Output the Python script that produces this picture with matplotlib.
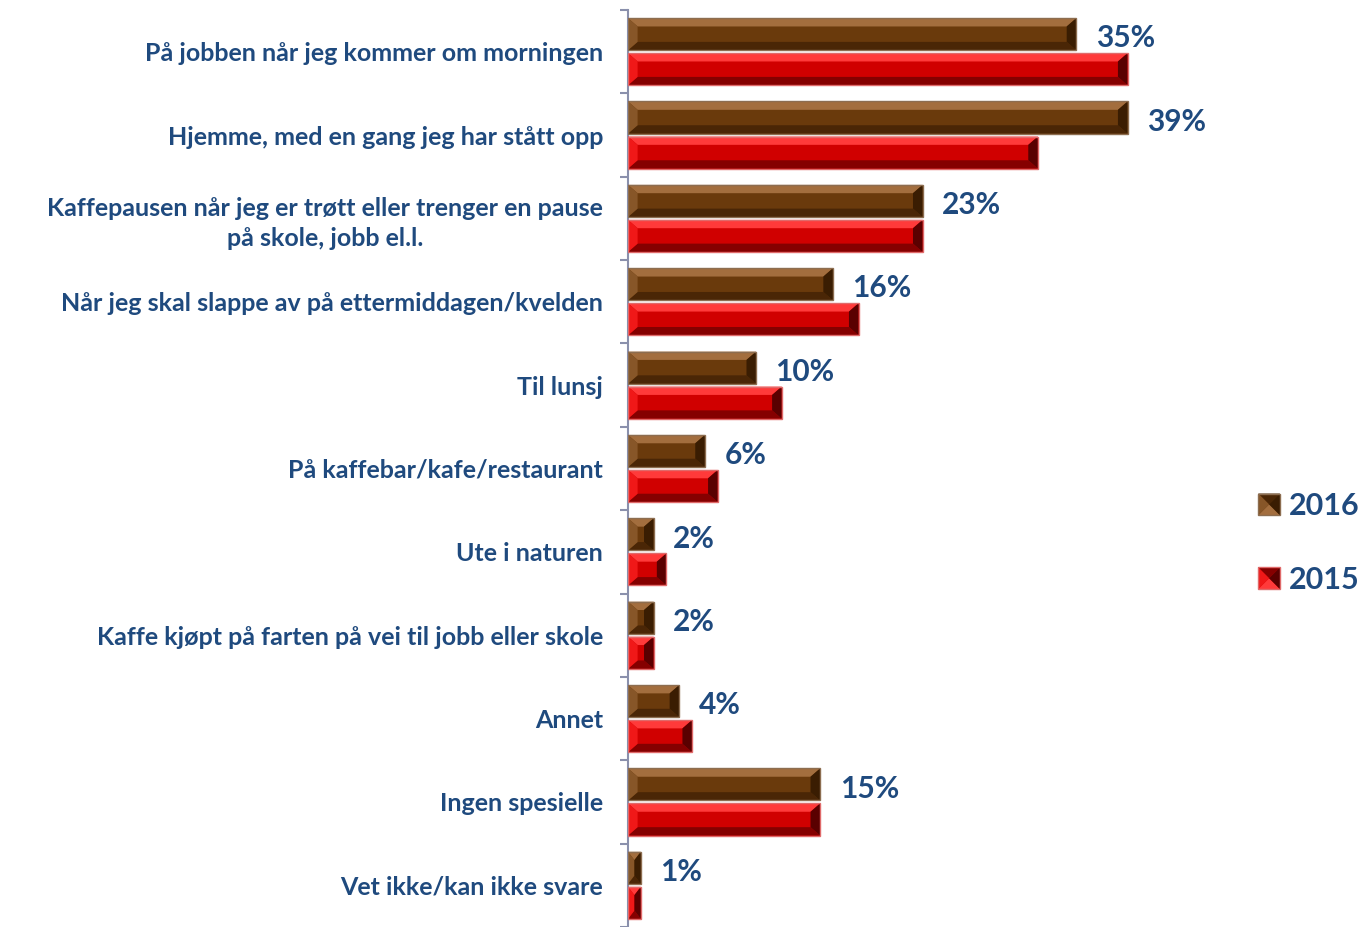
import matplotlib
matplotlib.use("Agg")
import matplotlib.pyplot as plt
from matplotlib.patches import Polygon, Rectangle
from matplotlib.legend_handler import HandlerBase

categories = [
    "På jobben når jeg kommer om morningen",
    "Hjemme, med en gang jeg har stått opp",
    "Kaffepausen når jeg er trøtt eller trenger en pause\npå skole, jobb el.l.",
    "Når jeg skal slappe av på ettermiddagen/kvelden",
    "Til lunsj",
    "På kaffebar/kafe/restaurant",
    "Ute i naturen",
    "Kaffe kjøpt på farten på vei til jobb eller skole",
    "Annet",
    "Ingen spesielle",
    "Vet ikke/kan ikke svare",
]
values_2016 = [35, 39, 23, 16, 10, 6, 2, 2, 4, 15, 1]
values_2015 = [39, 32, 23, 18, 12, 7, 3, 2, 5, 15, 1]
series_names = ["2016", "2015"]

text_color = "#1F4A7E"
# base, top face, bottom face, left face, right face, edge
brown = dict(base="#6A3A0C", top="#A36E3E", bottom="#4A2606", left="#875628", right="#3A1D02", edge="#8C6D50")
red = dict(base="#D00000", top="#FF3A3A", bottom="#850000", left="#F01818", right="#5A0000", edge="#E06A6A")

plt.rcParams['font.family'] = ['Lato', 'DejaVu Sans']
plt.rcParams['font.weight'] = 'bold'


def bevel(ax, x0, y0, w, h, c, bx, by, transform=None, zorder=3):
    dx = min(bx, w / 2.0)
    dy = min(by, h / 2.0)
    kw = dict(closed=True, linewidth=0, zorder=zorder)
    if transform is not None:
        kw['transform'] = transform
    faces = [
        ([(x0, y0), (x0 + w, y0), (x0 + w, y0 + h), (x0, y0 + h)], c['base']),
        ([(x0, y0), (x0 + w, y0), (x0 + w - dx, y0 + dy), (x0 + dx, y0 + dy)], c['top']),
        ([(x0, y0 + h), (x0 + w, y0 + h), (x0 + w - dx, y0 + h - dy), (x0 + dx, y0 + h - dy)], c['bottom']),
        ([(x0, y0), (x0 + dx, y0 + dy), (x0 + dx, y0 + h - dy), (x0, y0 + h)], c['left']),
        ([(x0 + w, y0), (x0 + w - dx, y0 + dy), (x0 + w - dx, y0 + h - dy), (x0 + w, y0 + h)], c['right']),
    ]
    arts = []
    for pts, col in faces:
        arts.append(Polygon(pts, facecolor=col, **kw))
    rkw = dict(linewidth=1.0, zorder=zorder)
    if transform is not None:
        rkw['transform'] = transform
    arts.append(Rectangle((x0, y0), w, h, fill=False, edgecolor=c['edge'], **rkw))
    return arts


class BevelHandler(HandlerBase):
    def __init__(self, colors):
        super().__init__()
        self.colors = colors

    def create_artists(self, legend, orig_handle, xdescent, ydescent, width, height, fontsize, trans):
        s = height * 1.0
        x0 = -xdescent + width - s
        y0 = -ydescent + (height - s) / 2.0
        return bevel(None, x0, y0, s, s, self.colors, s * 0.5, s * 0.5, transform=trans)


fig = plt.figure(figsize=(13.64, 9.27), dpi=100)
W, H = 1364.0, 927.0
ax = fig.add_axes([628 / W, 0.0, (1230 - 628) / W, (927 - 10) / H])

n = len(categories)
pos = list(range(n))
bh = 0.385
off = 0.21
bars16 = ax.barh([p - off for p in pos], values_2016, height=bh, color=brown['base'], linewidth=0)
bars15 = ax.barh([p + off for p in pos], values_2015, height=bh, color=red['base'], linewidth=0)

for bars, c in [(bars16, brown), (bars15, red)]:
    for r in bars.patches:
        for a in bevel(ax, r.get_x(), r.get_y(), r.get_width(), r.get_height(), c, 0.75, 0.1):
            ax.add_patch(a)

for p, v in zip(pos, values_2016):
    ax.annotate(f"{v}%", xy=(v, p - off), xytext=(14, -3), textcoords='offset points',
                ha='left', va='center', fontsize=21.5, fontweight='bold', color=text_color)

ax.set_xlim(0, 47)
ax.set_ylim(n - 0.5, -0.5)
ax.set_xticks([])
ax.set_yticks(pos)
ax.set_yticklabels(categories, fontsize=18, fontweight='bold', color=text_color,
                   multialignment='center', linespacing=1.35)
ax.set_yticks([p - 0.5 for p in range(n + 1)], minor=True)
ax.tick_params(axis='y', which='major', length=0, pad=18)
ax.tick_params(axis='y', which='minor', length=6, width=1.5, color='#8A90AC')
for s in ['top', 'right', 'bottom']:
    ax.spines[s].set_visible(False)
ax.spines['left'].set_color('#8A90AC')
ax.spines['left'].set_linewidth(1.5)
ax.patch.set_alpha(0)

h16 = Rectangle((0, 0), 1, 1)
h15 = Rectangle((0, 0), 1, 1)
fig.legend([h16, h15], series_names, handler_map={h16: BevelHandler(brown), h15: BevelHandler(red)},
           loc='center left', bbox_to_anchor=(1258 / W, 1 - 543 / H), frameon=False,
           borderpad=0, borderaxespad=0,
           prop={'size': 22, 'weight': 'bold'}, labelcolor=text_color,
           handlelength=0.72, handleheight=0.72, handletextpad=0.3, labelspacing=1.5)

fig.savefig("out.png", dpi=100)
